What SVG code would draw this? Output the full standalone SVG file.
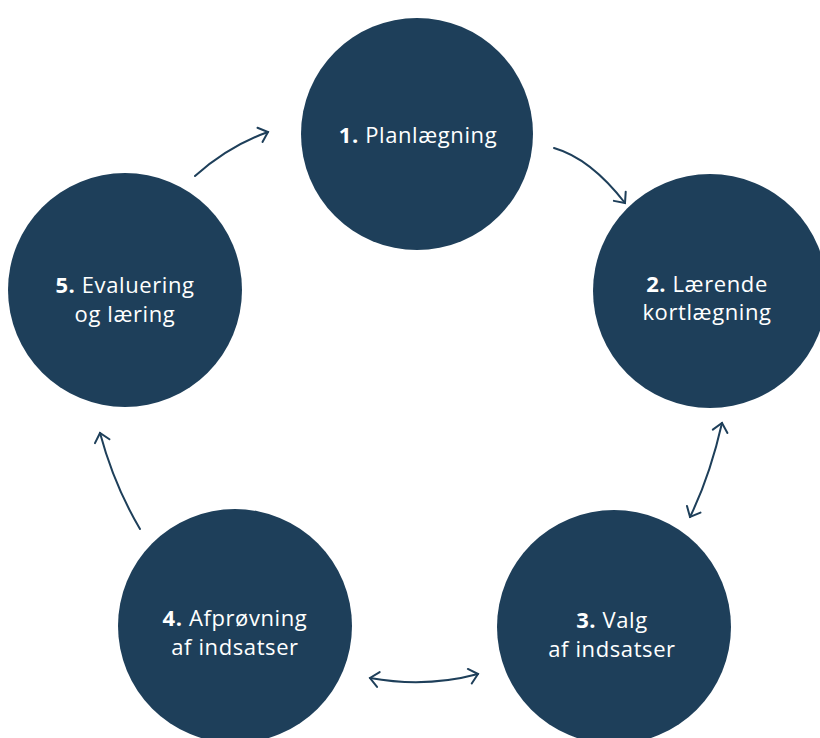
<svg xmlns="http://www.w3.org/2000/svg" width="820" height="738" viewBox="0 0 820 738">
  <defs>
    <style>
      .node circle { fill: #1e3f5a; }
      .node text { fill: #ffffff; font-family: "Open Sans", "Noto Sans", "Liberation Sans", sans-serif; font-size: 22px; letter-spacing: 0.6px; text-anchor: middle; }
      .node .num { font-weight: bold; }
      .link { fill: none; stroke: #1e3f5a; stroke-width: 2; stroke-linecap: round; }
    </style>
    <marker id="head" markerUnits="userSpaceOnUse" markerWidth="24" markerHeight="24" refX="0" refY="0" viewBox="-14 -12 16 24" orient="auto-start-reverse" overflow="visible">
      <path d="M-8.5,-7.5 L0,0 L-8.5,7.5" fill="none" stroke="#1e3f5a" stroke-width="2" stroke-linecap="round" stroke-linejoin="miter"/>
    </marker>
  </defs>
  <rect width="820" height="738" fill="#ffffff"/>

  <g id="connectors">
    <path class="link" d="M195,176 Q228.5,146 268,132" marker-end="url(#head)"/>
    <path class="link" d="M554,148 Q590.5,158.5 625,203" marker-end="url(#head)"/>
    <path class="link" d="M690,517 Q710,476 722,423" marker-start="url(#head)" marker-end="url(#head)"/>
    <path class="link" d="M370,678 Q426,688 478,674" marker-start="url(#head)" marker-end="url(#head)"/>
    <path class="link" d="M140,529 Q114,485 100,433" marker-end="url(#head)"/>
  </g>

  <g id="node1" class="node">
    <circle cx="417" cy="134" r="116"/>
    <text x="418" y="143"><tspan class="num">1.</tspan> Planlægning</text>
  </g>
  <g id="node2" class="node">
    <circle cx="710" cy="291" r="117"/>
    <text x="707" y="292"><tspan class="num">2.</tspan> Lærende</text>
    <text x="707" y="320">kortlægning</text>
  </g>
  <g id="node3" class="node">
    <circle cx="614" cy="627" r="117"/>
    <text x="612" y="628"><tspan class="num">3.</tspan> Valg</text>
    <text x="612" y="657">af indsatser</text>
  </g>
  <g id="node4" class="node">
    <circle cx="235" cy="626" r="117"/>
    <text x="235" y="626"><tspan class="num">4.</tspan> Afprøvning</text>
    <text x="235" y="655">af indsatser</text>
  </g>
  <g id="node5" class="node">
    <circle cx="125" cy="290" r="117"/>
    <text x="125" y="293"><tspan class="num">5.</tspan> Evaluering</text>
    <text x="125" y="322">og læring</text>
  </g>
</svg>
